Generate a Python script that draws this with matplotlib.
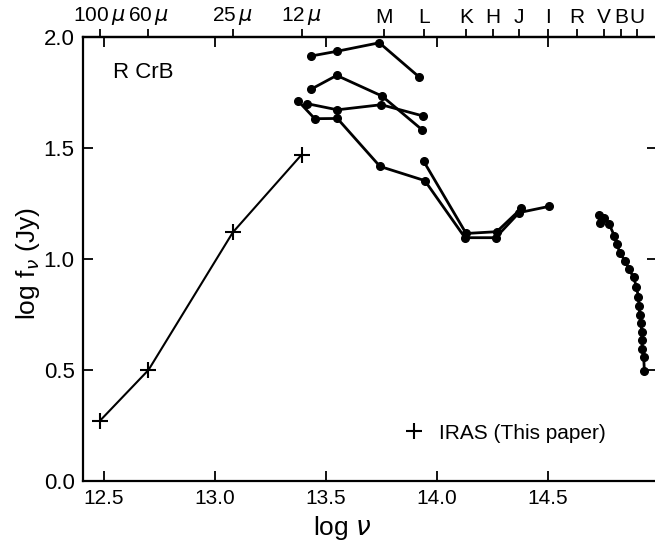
import matplotlib
matplotlib.use("Agg")
import matplotlib.pyplot as plt
from matplotlib.lines import Line2D

plt.rcParams['font.family'] = ['Liberation Sans', 'DejaVu Sans']
plt.rcParams['mathtext.fontset'] = 'dejavusans'

# IRAS points (this paper)
iras_x = [12.48, 12.70, 13.08, 13.39]
iras_y = [0.27, 0.50, 1.12, 1.47]

# other epochs (IR photometry)
sA_x = [13.431, 13.551, 13.740, 13.918]
sA_y = [1.914, 1.936, 1.974, 1.821]
sB_x = [13.431, 13.548, 13.752, 13.934]
sB_y = [1.764, 1.827, 1.734, 1.581]
sC_x = [13.413, 13.551, 13.749, 13.938]
sC_y = [1.700, 1.672, 1.695, 1.644]
sD_x = [13.374, 13.449, 13.551, 13.743, 13.945, 14.126, 14.264, 14.370, 14.505]
sD_y = [1.712, 1.632, 1.633, 1.417, 1.353, 1.096, 1.096, 1.209, 1.237]
sE_x = [13.940, 14.131, 14.269, 14.380]
sE_y = [1.440, 1.115, 1.123, 1.228]

# optical UBV photometry
sF_x = [14.733, 14.730, 14.754, 14.775, 14.799, 14.811, 14.823, 14.847, 14.865,
        14.886, 14.898, 14.907, 14.910, 14.913, 14.919, 14.922, 14.922, 14.925,
        14.931, 14.934]
sF_y = [1.164, 1.198, 1.183, 1.158, 1.104, 1.068, 1.028, 0.992, 0.953,
        0.917, 0.875, 0.830, 0.788, 0.749, 0.710, 0.671, 0.635, 0.596,
        0.560, 0.497]

# top axis band / wavelength positions
top_pos = [12.48, 12.70, 13.08, 13.39, 13.76, 13.94, 14.13, 14.25, 14.37,
           14.50, 14.63, 14.75, 14.83, 14.90]
top_lab = [r"100$\,\mu$", r"60$\,\mu$", r"25$\,\mu$", r"12$\,\mu$", "M", "L",
           "K", "H", "J", "I", "R", "V", "B", "U"]

xticks = [12.5, 13.0, 13.5, 14.0, 14.5]
yticks = [0.0, 0.5, 1.0, 1.5, 2.0]

fig = plt.figure(figsize=(6.55, 5.52), dpi=100)
ax = fig.add_axes([83/655, 71/552, 574/655, 444/552])
ax.set_xlim(12.405, 14.991)
ax.set_ylim(0.0, 2.0)

ax.plot(iras_x, iras_y, color='black', lw=1.5, marker='+', ms=11, mew=1.5)
for xs, ys in [(sA_x, sA_y), (sB_x, sB_y), (sC_x, sC_y), (sD_x, sD_y),
               (sE_x, sE_y), (sF_x, sF_y)]:
    ax.plot(xs, ys, color='black', lw=2.0, marker='o', ms=5.5)

ax.set_xticks(xticks)
ax.set_xticklabels([f"{v:.1f}" for v in xticks])
ax.set_yticks(yticks)
ax.set_yticklabels([f"{v:.1f}" for v in yticks])
ax.tick_params(axis='both', direction='in', length=7, width=1.3,
               top=True, right=True)
ax.tick_params(axis='x', labelsize=15, pad=6)
ax.tick_params(axis='y', labelsize=16, pad=6)
for s in ['left', 'bottom', 'top']:
    ax.spines[s].set_linewidth(1.6)
ax.spines['right'].set_visible(False)

ax.set_xlabel(r"log $\nu$", fontsize=19)
ax.xaxis.set_label_coords(0.451, -0.075)
ax.set_ylabel(r"log f$_\nu$ (Jy)", fontsize=19)
ax.yaxis.set_label_coords(-0.072, 0.49)

secax = ax.secondary_xaxis('top')
secax.set_xticks(top_pos)
secax.set_xticklabels(top_lab)
secax.tick_params(direction='out', length=6, width=1.3, labelsize=15, pad=1)
secax.spines['top'].set_linewidth(1.6)

ax.text(12.54, 1.84, "R CrB", fontsize=16, ha='left', va='center')

handle = Line2D([], [], color='black', marker='+', ls='none', ms=11, mew=1.5)
ax.legend([handle], ["IRAS (This paper)"], loc='center left',
          bbox_to_anchor=(0.525, 0.108), frameon=False, fontsize=15,
          handlelength=1.0, handletextpad=0.7)

fig.savefig("out.png", dpi=100)
